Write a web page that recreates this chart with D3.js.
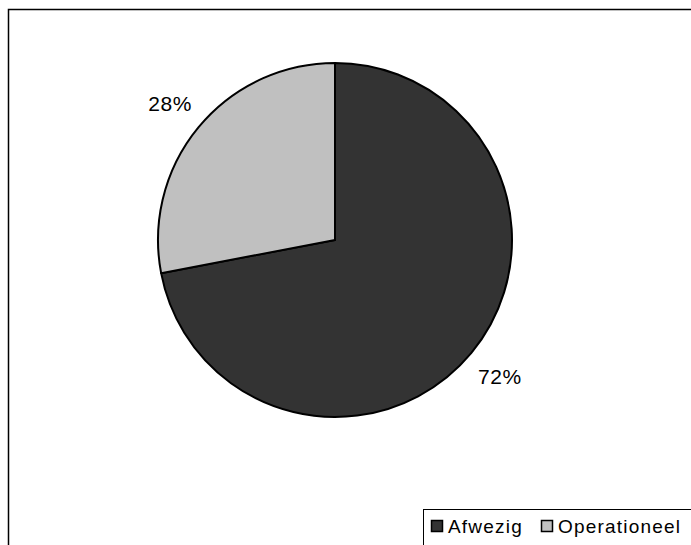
<!DOCTYPE html>
<html>
<head>
<meta charset="utf-8">
<script src="https://cdn.jsdelivr.net/npm/d3@7"></script>
<style>
  html, body { margin: 0; padding: 0; background: #fff; }
  svg { display: block; font-family: "Liberation Sans", Arial, sans-serif; }
</style>
</head>
<body>
<svg id="chart" width="691" height="545"></svg>
<script>
// Status share
const categories = ["Afwezig", "Operationeel"];
const values = [72, 28];
const labels = ["72%", "28%"];
const colors = ["#333333", "#c0c0c0"];

const svg = d3.select("#chart");
const W = 691, H = 545;

// Outer frame (runs past the right and bottom edges)
svg.append("rect")
  .attr("x", 8.5).attr("y", 9.5)
  .attr("width", W + 20).attr("height", H + 20)
  .attr("fill", "#fff")
  .attr("stroke", "#000").attr("stroke-width", 1.5);

const cx = 335, cy = 240, r = 177;

const pie = d3.pie().sort(null).value(d => d)
  .startAngle(0).endAngle(2 * Math.PI);
const arcs = pie(values);
const arc = d3.arc().innerRadius(0).outerRadius(r);
const labelArc = d3.arc().innerRadius(214).outerRadius(214);

const g = svg.append("g").attr("transform", `translate(${cx},${cy})`);

g.selectAll("path.slice")
  .data(arcs)
  .join("path")
  .attr("class", "slice")
  .attr("d", arc)
  .attr("fill", (d, i) => colors[i])
  .attr("stroke", "#000")
  .attr("stroke-width", 2)
  .attr("stroke-linejoin", "round");

g.selectAll("text.pct")
  .data(arcs)
  .join("text")
  .attr("class", "pct")
  .attr("transform", d => `translate(${labelArc.centroid(d)})`)
  .attr("text-anchor", "middle")
  .attr("dy", "0.36em")
  .attr("font-size", 21)
  .attr("letter-spacing", 0.6)
  .attr("fill", "#000")
  .text((d, i) => labels[i]);

// Legend (box runs past the right and bottom edges)
const legend = svg.append("g");
legend.append("rect")
  .attr("x", 423.5).attr("y", 509.5)
  .attr("width", 300).attr("height", 60)
  .attr("fill", "#fff")
  .attr("stroke", "#000").attr("stroke-width", 1);

const legendX = [431, 541];
const items = legend.selectAll("g.item")
  .data(categories)
  .join("g")
  .attr("class", "item")
  .attr("transform", (d, i) => `translate(${legendX[i]},520)`);

items.append("rect")
  .attr("x", 0.5).attr("y", 0.5)
  .attr("width", 11).attr("height", 11)
  .attr("fill", (d, i) => colors[i])
  .attr("stroke", "#000").attr("stroke-width", 1.5);

items.append("text")
  .attr("x", 17).attr("y", 13)
  .attr("font-size", 19)
  .attr("letter-spacing", 1.2)
  .attr("fill", "#000")
  .text(d => d);
</script>
</body>
</html>
